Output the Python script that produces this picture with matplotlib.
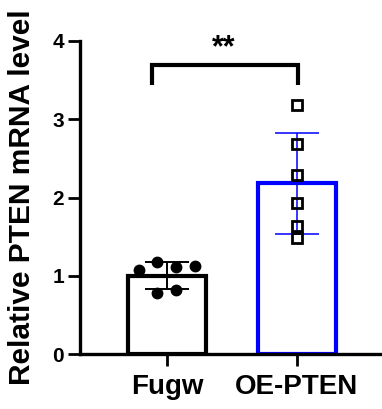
import numpy as np
import matplotlib
matplotlib.use("Agg")
import matplotlib.pyplot as plt

categories = ["Fugw", "OE-PTEN"]
bar_means = [1.00, 2.18]
bar_sd = [0.17, 0.65]
fugw_points = [1.07, 1.18, 1.11, 1.13, 0.78, 0.82]
fugw_offsets = [-0.215, -0.075, 0.07, 0.215, -0.075, 0.07]
oe_points = [3.18, 2.69, 2.29, 1.93, 1.63, 1.48]
oe_offsets = [0, 0, 0, 0, 0, 0]
yticks = [0, 1, 2, 3, 4]
sig_label = "**"

plt.rcParams['font.family'] = ['Liberation Sans', 'DejaVu Sans']
plt.rcParams['font.weight'] = 'bold'

fig = plt.figure(figsize=(3.82, 4.09), dpi=100)
ax = fig.add_axes([80/382, 55/409, 300/382, 313/409])

x = np.arange(len(categories))
edge_colors = ['black', '#0000ff']
for i in range(len(categories)):
    ax.bar(x[i], bar_means[i], width=0.6, facecolor='white', edgecolor=edge_colors[i],
           linewidth=3.0, zorder=2)
    ax.errorbar(x[i], bar_means[i], yerr=bar_sd[i], color=edge_colors[i],
                elinewidth=1.4 if i == 0 else 1.1, capsize=15.5,
                capthick=1.4 if i == 0 else 1.1, zorder=3, fmt='none')

ax.plot(x[0] + np.array(fugw_offsets), fugw_points, 'o', color='black',
        markersize=7.5, zorder=4, clip_on=False)
ax.plot(x[1] + np.array(oe_offsets), oe_points, 's', markerfacecolor='none',
        markeredgecolor='black', markeredgewidth=2.0, markersize=7.5, zorder=4,
        clip_on=False)

# significance bracket
yb, yl = 3.69, 3.44
ax.plot([-0.115, -0.115, 1.008, 1.008], [yl, yb, yb, yl], color='black',
        linewidth=3.0, clip_on=False, solid_capstyle='butt', solid_joinstyle='miter')
ax.text(0.44, 3.72, sig_label, ha='center', va='bottom', fontsize=22,
        fontweight='bold')

ax.set_xlim(-0.67, 1.64)
ax.set_ylim(0, 4)
ax.set_yticks(yticks)
ax.set_yticklabels([str(t) for t in yticks], fontsize=15, fontweight='bold')
ax.set_xticks(x)
ax.set_xticklabels(categories, fontsize=20, fontweight='bold')
ax.set_ylabel("Relative PTEN mRNA level", fontsize=21.5, fontweight='bold')
ax.yaxis.set_label_coords(-0.145, 0.5)

for s in ['top', 'right']:
    ax.spines[s].set_visible(False)
for s in ['left', 'bottom']:
    ax.spines[s].set_linewidth(2.4)
ax.tick_params(axis='both', width=2.0, length=8.5, pad=3)
ax.tick_params(axis='x', pad=6)

fig.savefig("out.png", dpi=100)
